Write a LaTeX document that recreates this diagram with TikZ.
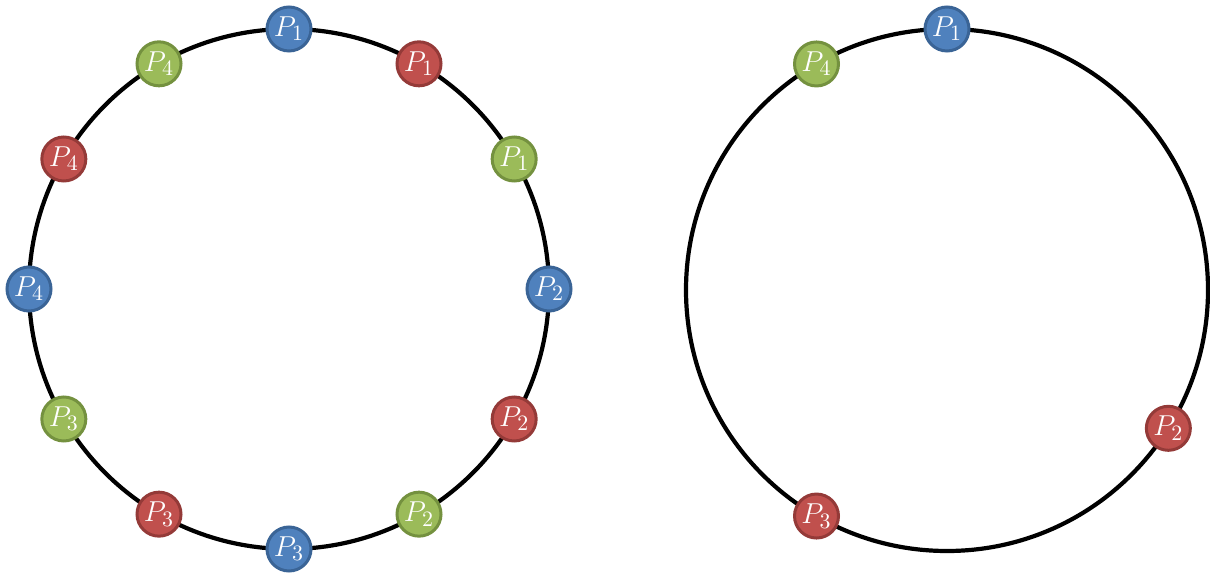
\documentclass[tikz,border=0pt]{standalone}
\usepackage{tikz}
\usetikzlibrary{positioning}
\usepackage{xcolor}
\definecolor{bleu}{HTML}{4F81BD}
\definecolor{bleu fonce}{HTML}{3A6496}
\definecolor{rouge}{HTML}{C0504D}
\definecolor{rouge fonce}{HTML}{943A38}
\definecolor{vert}{HTML}{9BBB59}
\definecolor{vert fonce}{HTML}{74913F}
\tikzset{
    anneau/.style={line width=2.1pt, black},
    jeton/.style={circle, minimum size=22pt, inner sep=0pt, line width=1.5pt, text=white, font=\fontsize{15}{17}\selectfont},
    jeton bleu/.style={jeton, fill=bleu, draw=bleu fonce},
    jeton rouge/.style={jeton, fill=rouge, draw=rouge fonce},
    jeton vert/.style={jeton, fill=vert, draw=vert fonce},
}
\begin{document}
\begin{tikzpicture}[x=0.5pt, y=0.5pt]
\useasboundingbox (0,0) rectangle (1210,573);
% Anneau de gauche : 12 jetons
\begin{scope}[shift={(289,284)}]
\draw[anneau] (0,0) circle (130pt);
\foreach \i in {1,...,4} {
  \node[jeton bleu] (g-b\i) at ({90-90*(\i-1)}:260) {$P_{\i}$};
  \node[jeton rouge] (g-r\i) at ({60-90*(\i-1)}:260) {$P_{\i}$};
  \node[jeton vert] (g-v\i) at ({30-90*(\i-1)}:260) {$P_{\i}$};
}
\end{scope}

% Anneau de droite : 4 jetons
\begin{scope}[shift={(947,283)}]
\draw[anneau] (0,0) circle (130.5pt);
\node[jeton bleu] (d-b1) at (90:261) {$P_1$};
\node[jeton rouge] (d-r2) at (-32:261) {$P_2$};
\node[jeton rouge] (d-r3) at (-120:261) {$P_3$};
\node[jeton vert] (d-v4) at (120:261) {$P_4$};
\end{scope}
\end{tikzpicture}
\end{document}
